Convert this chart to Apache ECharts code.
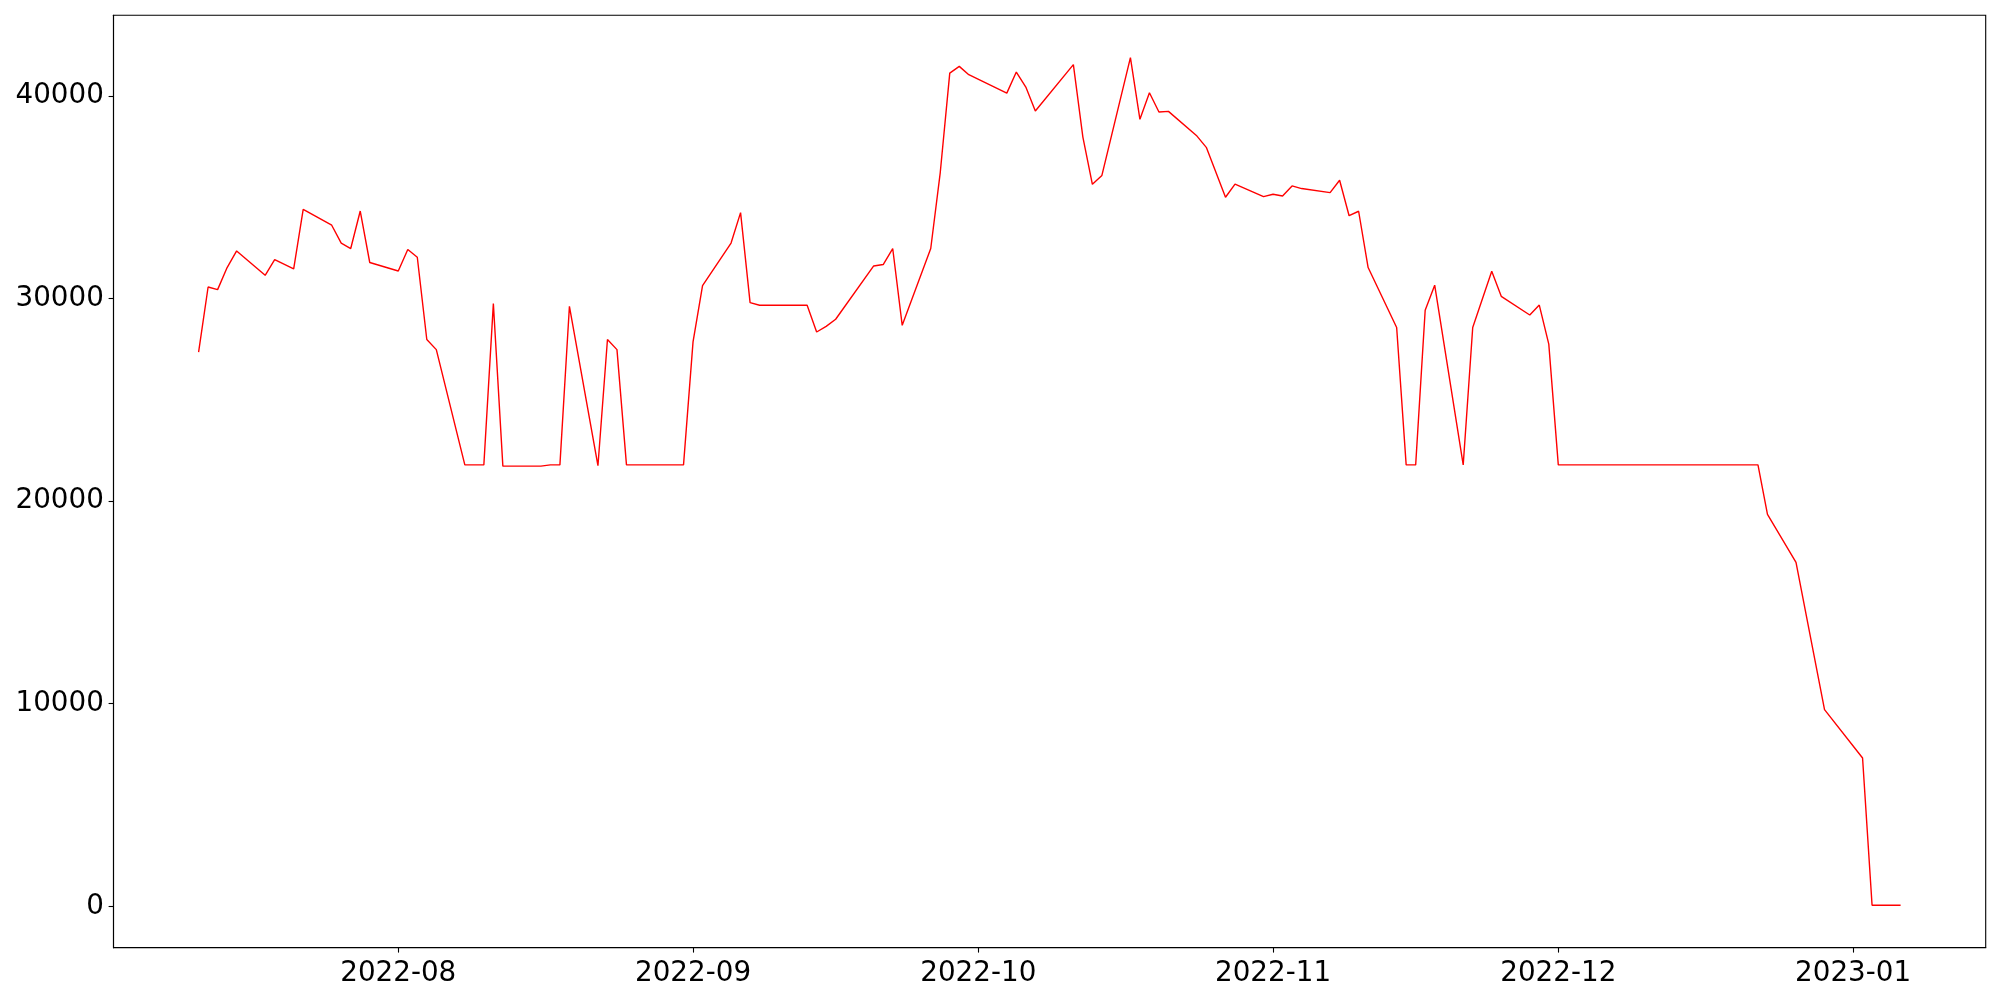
<!DOCTYPE html>
<html>
<head>
<meta charset="utf-8">
<script src="https://cdn.jsdelivr.net/npm/echarts@6/dist/echarts.min.js"></script>
<style>
  html, body { margin: 0; padding: 0; background: #fff; }
  #chart { width: 2000px; height: 1000px; }
</style>
</head>
<body>
<div id="chart"></div>
<script>
// ---- data ----
const dates = [
  '2022-07-11','2022-07-12','2022-07-13','2022-07-14','2022-07-15',
  '2022-07-18','2022-07-19','2022-07-21','2022-07-22',
  '2022-07-25','2022-07-26','2022-07-27','2022-07-28','2022-07-29',
  '2022-08-01','2022-08-02','2022-08-03','2022-08-04','2022-08-05',
  '2022-08-08','2022-08-10','2022-08-11','2022-08-12',
  '2022-08-16','2022-08-17','2022-08-18','2022-08-19',
  '2022-08-22','2022-08-23','2022-08-24','2022-08-25',
  '2022-08-31','2022-09-01','2022-09-02',
  '2022-09-05','2022-09-06','2022-09-07','2022-09-08',
  '2022-09-13','2022-09-14','2022-09-15','2022-09-16',
  '2022-09-20','2022-09-21','2022-09-22','2022-09-23',
  '2022-09-26','2022-09-27','2022-09-28','2022-09-29','2022-09-30',
  '2022-10-04','2022-10-05','2022-10-06','2022-10-07',
  '2022-10-11','2022-10-12','2022-10-13','2022-10-14',
  '2022-10-17','2022-10-18','2022-10-19','2022-10-20','2022-10-21',
  '2022-10-24','2022-10-25','2022-10-27','2022-10-28',
  '2022-10-31','2022-11-01','2022-11-02','2022-11-03','2022-11-04',
  '2022-11-07','2022-11-08','2022-11-09','2022-11-10','2022-11-11',
  '2022-11-14','2022-11-15','2022-11-16','2022-11-17','2022-11-18',
  '2022-11-21','2022-11-22','2022-11-24','2022-11-25',
  '2022-11-28','2022-11-29','2022-11-30',
  '2022-12-01','2022-12-22','2022-12-23','2022-12-26','2022-12-29',
  '2023-01-02','2023-01-03','2023-01-06'
];
const values = [
  27360, 30570, 30440, 31530, 32350,
  31150, 31920, 31460, 34400,
  33620, 32740, 32470, 34320, 31780,
  31360, 32420, 32040, 27980, 27480,
  21790, 21790, 29750, 21730,
  21730, 21790, 21790, 29620,
  21750, 27980, 27480, 21790,
  21790, 27860, 30640,
  32740, 34240, 29800, 29670,
  29670, 28350, 28630, 28980,
  31610, 31680, 32470, 28680,
  32470, 36220, 41130, 41460, 41050,
  40140, 41180, 40440, 39260,
  41550, 37970, 35640, 36080,
  41890, 38850, 40160, 39210, 39240,
  38020, 37450, 35000, 35650,
  35030, 35150, 35060, 35560, 35430,
  35230, 35840, 34090, 34310, 31530,
  28570, 21790, 21790, 29420, 30660,
  21790, 28570, 31350, 30110,
  29190, 29680, 27750,
  21790, 21790, 19350, 16980, 9710,
  7320, 50, 50
];
const xTickDates = ['2022-08-01','2022-09-01','2022-10-01','2022-11-01','2022-12-01','2023-01-01'];
const xTickLabels = ['2022-08','2022-09','2022-10','2022-11','2022-12','2023-01'];
const yTicks = [0, 10000, 20000, 30000, 40000];

// ---- build ----
function ts(s) { const p = s.split('-').map(Number); return Date.UTC(p[0], p[1] - 1, p[2]); }
const seriesData = dates.map((d, i) => [ts(d), values[i]]);
const xs = seriesData.map(p => p[0]);
const xSpan = xs[xs.length - 1] - xs[0];
const xMin = xs[0] - 0.05 * xSpan, xMax = xs[xs.length - 1] + 0.05 * xSpan;
const yLo = Math.min(...values), yHi = Math.max(...values), ySpan = yHi - yLo;
const yMin = yLo - 0.05 * ySpan, yMax = yHi + 0.05 * ySpan;
const xTickVals = xTickDates.map(ts);
const labelMap = {};
xTickVals.forEach((v, i) => { labelMap[v] = xTickLabels[i]; });

const font = 'DejaVu Sans';
const fs = 27.78;
const chart = echarts.init(document.getElementById('chart'), null, { renderer: 'canvas' });
chart.setOption({
  animation: false,
  backgroundColor: '#ffffff',
  grid: {
    left: 113.5, right: 14.3, top: 15.3, bottom: 52.3,
    show: true, borderColor: '#000', borderWidth: 1.1, backgroundColor: 'transparent',
    containLabel: false, outerBoundsMode: 'none'
  },
  xAxis: {
    type: 'value',
    min: xMin, max: xMax,
    axisLine: { show: true, onZero: false, lineStyle: { color: '#000', width: 1.1 } },
    axisTick: { show: true, inside: false, length: 4.9, lineStyle: { color: '#000', width: 1.1 }, customValues: xTickVals },
    axisLabel: {
      show: true, margin: 12, color: '#000', fontFamily: font, fontSize: fs,
      customValues: xTickVals,
      formatter: v => labelMap[v] || ''
    },
    splitLine: { show: false }
  },
  yAxis: {
    type: 'value',
    min: yMin, max: yMax,
    axisLine: { show: true, onZero: false, lineStyle: { color: '#000', width: 1.1 } },
    axisTick: { show: true, inside: false, length: 4.9, lineStyle: { color: '#000', width: 1.1 }, customValues: yTicks },
    axisLabel: {
      show: true, margin: 9.7, color: '#000', fontFamily: font, fontSize: fs,
      customValues: yTicks,
      formatter: v => String(v)
    },
    splitLine: { show: false }
  },
  series: [{
    type: 'line',
    data: seriesData,
    showSymbol: false,
    symbol: 'none',
    lineStyle: { color: '#ff0000', width: 1.4 },
    itemStyle: { color: '#ff0000' },
    sampling: null
  }]
});
</script>
</body>
</html>
